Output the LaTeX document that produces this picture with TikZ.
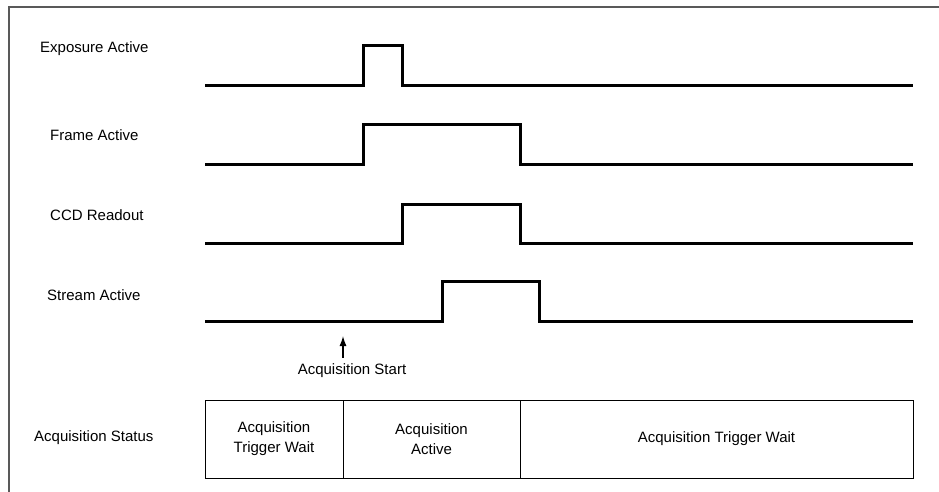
\documentclass[tikz,border=0pt]{standalone}
\usepackage{fontspec}
\setmainfont{Liberation Sans}
\usetikzlibrary{arrows.meta}

\tikzset{
  signal/.style={line width=3pt, line join=miter},
  sigtext/.style={anchor=west, inner sep=0pt, font=\fontsize{15}{18}\selectfont},
  cell/.style={draw, line width=0.9pt, minimum height=78pt, inner sep=0pt, outer sep=0pt,
    anchor=north west, align=center, font=\fontsize{15}{20}\selectfont},
}

\begin{document}
\begin{tikzpicture}[x=1pt,y=-1pt]
\useasboundingbox (0,0) rectangle (939,492);
% outer frame
\draw[black!65, line width=1.6pt] (9,495) -- (9,7) -- (942,7);
% signal names
\node[sigtext] (expname) at (40,49) {Exposure Active};
\node[sigtext] (framename) at (50,135) {Frame Active};
\node[sigtext] (ccdname) at (50,215) {CCD Readout};
\node[sigtext] (streamname) at (47,295) {Stream Active};
\node[sigtext] (statusname) at (34,438) {Acquisition Status};
% waveforms
\draw[signal] (205,86) -- (363,86) -- (363,46) -- (402,46) -- (402,86) -- (913,86);
\draw[signal] (205,164) -- (363,164) -- (363,125) -- (520,125) -- (520,164) -- (913,164);
\draw[signal] (205,243) -- (402,243) -- (402,204) -- (520,204) -- (520,243) -- (913,243);
\draw[signal] (205,321) -- (442,321) -- (442,281) -- (539,281) -- (539,321) -- (913,321);
% acquisition start
\coordinate (trig) at (343,336);
\node[sigtext, anchor=center] (acqstart) at (352,371) {Acquisition Start};
\draw[-{Latex[length=10pt,width=7pt]}, line width=1.3pt, shorten <=6pt]
  (acqstart.north -| trig) -- (trig);
% status cells
\node[cell, minimum width=138pt] (waitA) at (205,400) {Acquisition\\Trigger Wait};
\node[cell, minimum width=177pt] (active) at (waitA.north east) {Acquisition\\Active};
\node[cell, minimum width=393pt] (waitB) at (active.north east) {Acquisition Trigger Wait};
\end{tikzpicture}
\end{document}
